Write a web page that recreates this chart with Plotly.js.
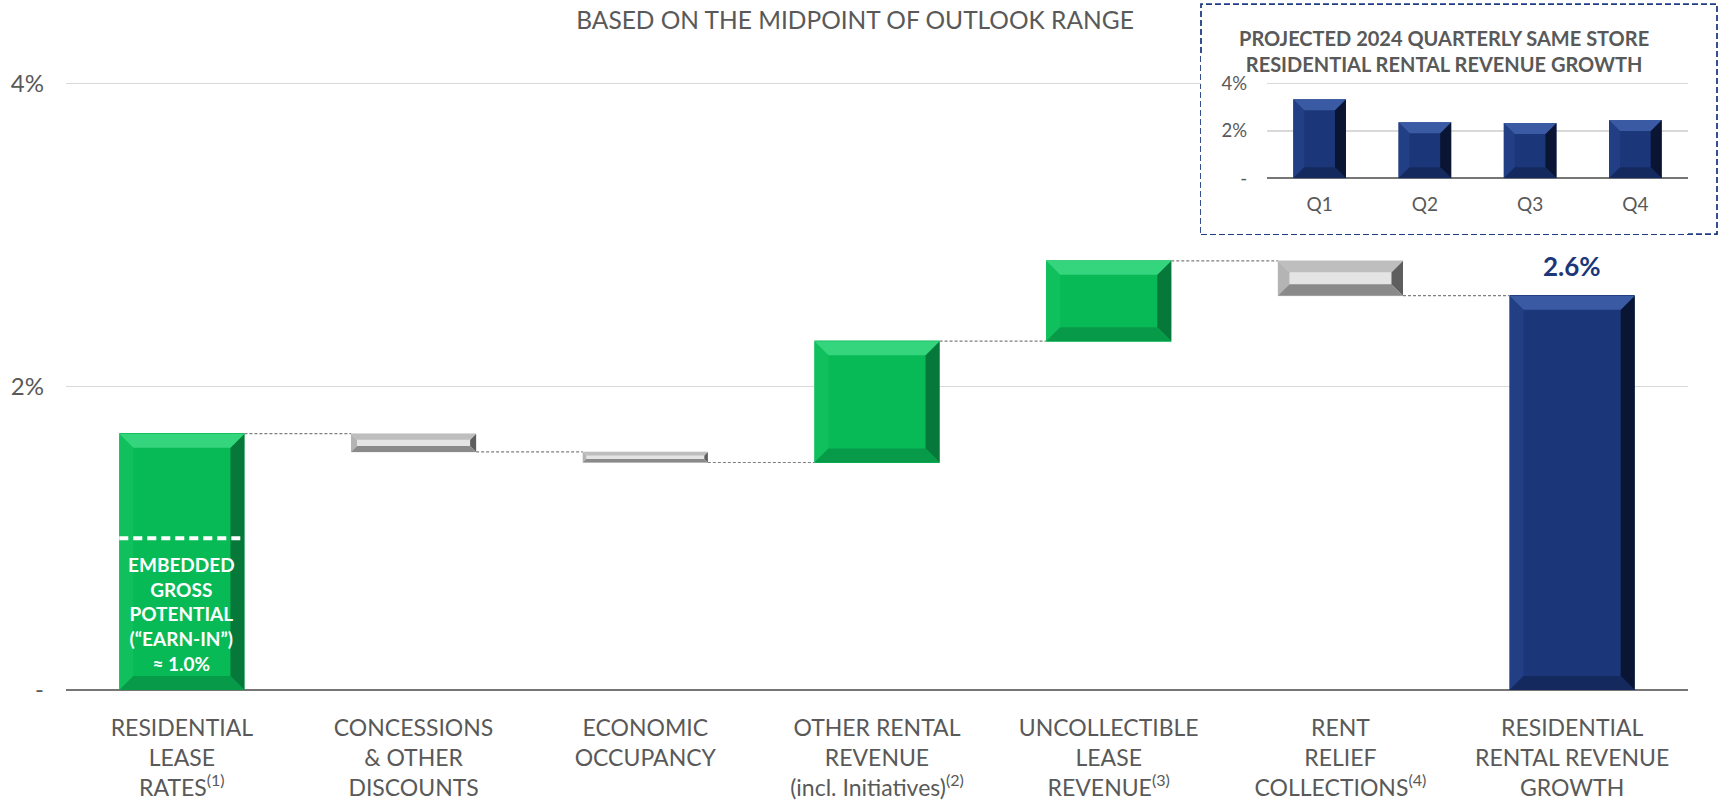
<!DOCTYPE html>
<html><head><meta charset="utf-8">
<script src="https://cdn.plot.ly/plotly-3.0.1.min.js"></script>
<style>html,body{margin:0;padding:0;background:#fff;}#chart{width:1719px;height:802px;}</style>
</head><body><div id="chart"></div>
<script>
// ---- data ----
const categories = [
  'RESIDENTIAL<br>LEASE<br>RATES<sup>(1)</sup>',
  'CONCESSIONS<br>&amp; OTHER<br>DISCOUNTS',
  'ECONOMIC<br>OCCUPANCY',
  'OTHER RENTAL<br>REVENUE<br>(incl. Initiatives)<sup>(2)</sup>',
  'UNCOLLECTIBLE<br>LEASE<br>REVENUE<sup>(3)</sup>',
  'RENT<br>RELIEF<br>COLLECTIONS<sup>(4)</sup>',
  'RESIDENTIAL<br>RENTAL REVENUE<br>GROWTH'
];
const changes = [1.69, -0.12, -0.07, 0.80, 0.53, -0.23, 2.60];
const measures = ['relative','relative','relative','relative','relative','relative','total'];
const earnIn = 1.0;
const earnInText = 'EMBEDDED<br>GROSS<br>POTENTIAL<br>(“EARN-IN”)<br>≈ ';
const quarters = ['Q1','Q2','Q3','Q4'];
const quarterly = [3.33, 2.36, 2.33, 2.46];
const yTickVals = [0, 2, 4];
const yTickText = ['-', '2%', '4%'];
const mainTitle = 'BASED ON THE MIDPOINT OF OUTLOOK RANGE';
const insetTitle = 'PROJECTED 2024 QUARTERLY SAME STORE<br>RESIDENTIAL RENTAL REVENUE GROWTH';

// ---- layout constants ----
const W = 1719, H = 802;
const Y_MAX = 4.2;                 // a little headroom so the 4% gridline is drawn
const ZERO_PY = 690, TOP4_PY = 83.3;
const PX_PER_UNIT = (ZERO_PY - TOP4_PY) / 4;
const M = {l: 66, r: 31, t: ZERO_PY - Y_MAX * PX_PER_UNIT, b: H - ZERO_PY};
const plotW = W - M.l - M.r, plotH = H - M.t - M.b;
const FONT = 'Lato, "Liberation Sans", Arial, sans-serif';
const GREY_TXT = '#595959';
const NAVY = '#1C3779';
const BAR_W = 0.54, INSET_W = 0.5;

// inset pixel geometry
const IN_ZERO_PY = 178.3, IN_TOP4_PY = 83.3, IN_X0_PX = 1267;
const IN_PX_PER_UNIT = (IN_ZERO_PY - IN_TOP4_PY) / 4;
const insetX0 = (IN_X0_PX - M.l) / plotW;
const insetYd = [(ZERO_PY - IN_ZERO_PY) / plotH, (ZERO_PY - (IN_ZERO_PY - Y_MAX * IN_PX_PER_UNIT)) / plotH];

const PAL = {
  inc:   {fill:'#08BA55', top:'#34D57D', left:'#10C05C', right:'#05783A', bottom:'#079A49'},
  dec:   {fill:'#E4E4E4', top:'#BEBEBE', left:'#B4B4B4', right:'#5E5E5E', bottom:'#8A8A8A'},
  total: {fill:NAVY,      top:'#3A5BA4', left:'#223F86', right:'#0A1533', bottom:'#142A5E'}
};

const idx = categories.map((_, i) => i);
const qIdx = quarters.map((_, i) => i);

// running totals for bar extents (used for bevel decoration)
let cum = 0;
const bars = changes.map((v, i) => {
  let lo, hi, kind;
  if (measures[i] === 'total') { lo = 0; hi = cum; kind = 'total'; }
  else { const b = cum; cum += v; lo = Math.min(b, cum); hi = Math.max(b, cum); kind = v >= 0 ? 'inc' : 'dec'; }
  return {x: i, lo, hi, kind};
});
const totalVal = bars[bars.length - 1].hi;

function P(pts){ return 'M' + pts.map(p => p[0] + ',' + p[1]).join('L') + 'Z'; }
function bevel(xc, lo, hi, halfW, pxX, pxY, maxB, pal, xref, yref){
  const hpx = (hi - lo) * pxY, wpx = 2 * halfW * pxX;
  const b = Math.min(maxB, hpx * 0.33, wpx * 0.3);
  const dx = b / pxX, dy = b / pxY;
  const x0 = xc - halfW, x1 = xc + halfW;
  const base = {type:'path', line:{width:0}, xref, yref, layer:'above'};
  return [
    Object.assign({}, base, {path:P([[x0,lo],[x0+dx,lo+dy],[x0+dx,hi-dy],[x0,hi]]), fillcolor:pal.left}),
    Object.assign({}, base, {path:P([[x1,lo],[x1-dx,lo+dy],[x1-dx,hi-dy],[x1,hi]]), fillcolor:pal.right}),
    Object.assign({}, base, {path:P([[x0,hi],[x1,hi],[x1-dx,hi-dy],[x0+dx,hi-dy]]), fillcolor:pal.top}),
    Object.assign({}, base, {path:P([[x0,lo],[x1,lo],[x1-dx,lo+dy],[x0+dx,lo+dy]]), fillcolor:pal.bottom})
  ];
}

const pxX = plotW / 7, pxY = PX_PER_UNIT;
let shapes = [];

// inset frame: white fill hiding the main grid (between grid and traces), dashed navy border on paper
const boxPx = {x0: 1201, x1: 1717, y0: 4, y1: 234};
shapes.push({type:'rect', xref:'x', yref:'y', layer:'between',
  x0: (boxPx.x0 - M.l)/pxX - 0.5, x1: 6.5,
  y0: (ZERO_PY - boxPx.y1)/pxY, y1: Y_MAX,
  fillcolor:'#ffffff', line:{width:0}});
shapes.push({type:'rect', xref:'paper', yref:'paper', layer:'below',
  x0: (boxPx.x0 - M.l)/plotW, x1: (boxPx.x1 - M.l)/plotW,
  y0: (ZERO_PY - boxPx.y1)/plotH, y1: (ZERO_PY - boxPx.y0)/plotH,
  fillcolor:'rgba(0,0,0,0)', line:{color:'#203D84', width:1.8, dash:'6px,3px'}});

bars.forEach(b => { shapes = shapes.concat(bevel(b.x, b.lo, b.hi, BAR_W/2, pxX, pxY, 14, PAL[b.kind], 'x', 'y')); });

const ipxX = plotW * (1 - insetX0) / 4, ipxY = IN_PX_PER_UNIT;
quarterly.forEach((v, i) => { shapes = shapes.concat(bevel(i, 0, v, INSET_W/2, ipxX, ipxY, 11, PAL.total, 'x2', 'y2')); });

// embedded earn-in dashed line
shapes.push({type:'line', xref:'x', yref:'y', layer:'above',
  x0:-BAR_W/2, x1:BAR_W/2, y0:earnIn, y1:earnIn,
  line:{color:'#ffffff', width:4, dash:'9px,5px'}});

const traces = [
  {
    type:'waterfall', x: idx, y: changes, measure: measures, width: BAR_W,
    increasing:{marker:{color:PAL.inc.fill}},
    decreasing:{marker:{color:PAL.dec.fill}},
    totals:{marker:{color:PAL.total.fill}},
    connector:{mode:'between', line:{color:'#7F7F7F', width:1.2, dash:'3px,2px'}},
    hoverinfo:'skip', showlegend:false, xaxis:'x', yaxis:'y'
  },
  {
    type:'bar', x: qIdx, y: quarterly, width: INSET_W,
    marker:{color:NAVY, line:{width:0}},
    hoverinfo:'skip', showlegend:false, xaxis:'x2', yaxis:'y2'
  }
];

const layout = {
  width: W, height: H,
  margin: M,
  paper_bgcolor:'#ffffff', plot_bgcolor:'rgba(0,0,0,0)',
  font:{family:FONT, color:GREY_TXT},
  showlegend:false,
  title:{text: mainTitle, font:{family:FONT, size:24.5, color:GREY_TXT},
    x: 855/W, xanchor:'center', y: 1 - 20/H, yanchor:'middle', yref:'container'},
  xaxis:{
    domain:[0,1], anchor:'y', range:[-0.5, 6.5], tickvals: idx, ticktext: categories,
    showgrid:false, zeroline:false, showline:false, ticks:'', fixedrange:true,
    tickfont:{family:FONT, size:23, color:GREY_TXT}, ticklabelstandoff: 22
  },
  yaxis:{
    domain:[0,1], anchor:'x', range:[0, Y_MAX], tickvals: yTickVals, ticktext: yTickText,
    showgrid:true, gridcolor:'#D9D9D9', gridwidth:1.5,
    zeroline:true, zerolinecolor:'#767676', zerolinewidth:2.5,
    ticks:'', fixedrange:true, tickfont:{family:FONT, size:24, color:GREY_TXT}, ticklabelstandoff: 21
  },
  xaxis2:{
    domain:[insetX0, 1], anchor:'y2', range:[-0.5, 3.5], tickvals: qIdx, ticktext: quarters,
    showgrid:false, zeroline:false, showline:false, ticks:'', fixedrange:true,
    tickfont:{family:FONT, size:19, color:GREY_TXT}, ticklabelstandoff: 13
  },
  yaxis2:{
    domain: insetYd, anchor:'x2', range:[0, Y_MAX], tickvals: yTickVals, ticktext: yTickText,
    showgrid:true, gridcolor:'#D9D9D9', gridwidth:1.5,
    zeroline:true, zerolinecolor:'#767676', zerolinewidth:2,
    ticks:'', fixedrange:true, tickfont:{family:FONT, size:18.5, color:GREY_TXT}, ticklabelstandoff: 19
  },
  shapes: shapes,
  annotations:[
    {xref:'x', yref:'y', x: bars[0].x, y: earnIn/2, showarrow:false,
     text: earnInText + earnIn.toFixed(1) + '%',
     font:{family:FONT, size:19, color:'#ffffff', weight:'bold'}, align:'center'},
    {xref:'x', yref:'y', x: bars[6].x, y: totalVal, showarrow:false, yanchor:'bottom', yshift:12,
     text:'<b>' + totalVal.toFixed(1) + '%</b>', font:{family:FONT, size:26, color:NAVY}},
    {xref:'paper', yref:'paper', x: (1444 - M.l)/plotW, y: (ZERO_PY - 51)/plotH, showarrow:false,
     xanchor:'center', yanchor:'middle',
     text:'<b>' + insetTitle + '</b>', font:{family:FONT, size:20, color:GREY_TXT}, align:'center'}
  ]
};

Plotly.newPlot('chart', traces, layout, {staticPlot:true, displayModeBar:false});
</script>
</body></html>
